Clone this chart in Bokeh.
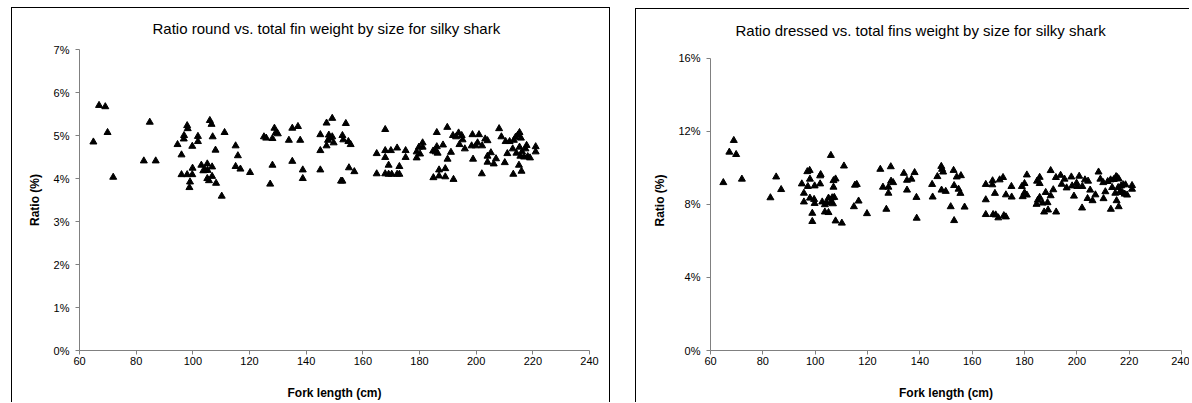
from bokeh.plotting import figure
from bokeh.layouts import row
from bokeh.models import Range1d, FixedTicker, PrintfTickFormatter
from bokeh.embed import file_html
from bokeh.resources import INLINE

# ---- data: left chart (round vs total fin weight) ----
round_fl = [64.9, 66.9, 69.1, 69.9, 71.9, 82.7, 84.8, 86.9, 94.6, 96.0, 96.0, 96.8, 96.9, 98.0, 98.0,
            98.2, 99.0, 98.8, 99.8, 99.8, 99.9, 101.8, 101.8, 103.0, 103.7, 104.4, 105.1, 105.2, 105.1,
            106.0, 106.6, 105.7, 106.8, 106.8, 107.0, 108.0, 108.2, 110.2, 111.2, 115.1, 115.9, 115.1,
            116.8, 120.2, 125.1, 125.9, 127.3, 128.1, 128.1, 128.8, 129.3, 130.0, 133.9, 135.1, 135.1,
            137.1, 137.9, 138.8, 138.8, 145.0, 145.0, 145.0, 147.2, 147.2, 147.7, 148.0, 148.4, 149.2,
            149.2, 149.7, 152.3, 152.8, 152.8, 153.1, 154.0, 154.9, 155.1, 155.7, 157.0, 164.9, 164.9,
            167.9, 167.9, 167.9, 167.9, 169.1, 169.1, 169.9, 170.2, 172.1, 172.1, 172.9, 172.9, 175.1,
            175.1, 179.0, 179.0, 179.8, 180.2, 181.1, 181.1, 184.9, 184.8, 185.7, 186.1, 186.1, 186.4,
            186.9, 186.9, 188.3, 189.1, 189.1, 189.8, 189.9, 191.1, 192.0, 191.8, 192.9, 193.8, 194.1,
            194.9, 195.2, 196.0, 198.7, 198.4, 198.9, 199.8, 200.5, 201.0, 202.0, 202.1, 203.2, 204.0,
            204.0, 204.0, 205.2, 206.2, 207.0, 208.1, 208.9, 210.1, 210.4, 211.0, 211.8, 212.9, 213.1,
            213.3, 213.9, 214.2, 214.7, 215.1, 215.3, 215.3, 215.6, 215.8, 216.0, 216.2, 216.9, 217.4,
            217.8, 218.2, 219.0, 221.0, 221.0]
round_ratio = [4.85, 5.70, 5.67, 5.07, 4.03, 4.41, 5.31, 4.41, 4.79, 4.55, 4.09, 4.92, 5.00, 4.09, 5.23,
               5.16, 3.92, 3.79, 4.09, 4.75, 4.24, 4.98, 4.86, 4.31, 4.18, 4.19, 4.34, 4.19, 4.00,
               5.35, 5.26, 3.95, 4.27, 4.05, 4.97, 4.66, 3.89, 3.59, 5.07, 4.76, 4.53, 4.28,
               4.22, 4.14, 4.97, 4.94, 3.87, 4.31, 4.93, 5.17, 5.07, 5.04, 4.89, 5.17, 4.40,
               5.21, 4.89, 4.20, 4.00, 5.02, 4.65, 4.20, 5.29, 4.76, 4.89, 5.01, 4.94, 5.40,
               4.97, 4.83, 3.94, 3.94, 5.00, 4.90, 5.28, 4.86, 4.25, 4.79, 4.16, 4.58, 4.11,
               5.14, 4.65, 4.49, 4.11, 4.31, 4.10, 4.65, 4.10, 4.71, 4.10, 4.28, 4.10, 4.65,
               4.49, 4.48, 4.62, 4.73, 4.57, 4.83, 4.73, 4.02, 4.64, 4.62, 5.07, 4.74, 4.59,
               4.20, 4.06, 4.78, 4.23, 4.04, 5.19, 4.45, 4.61, 3.98, 5.00, 4.97, 5.06, 4.79,
               5.00, 4.90, 4.69, 5.02, 4.76, 4.45, 4.76, 4.83, 5.02, 4.11, 4.76, 4.92, 4.88,
               4.52, 4.38, 4.60, 4.34, 4.46, 5.16, 4.97, 4.37, 4.86, 4.58, 4.86, 4.69, 4.10,
               4.89, 4.96, 4.59, 5.01, 4.31, 5.07, 4.73, 4.52, 4.94, 4.17, 4.62, 4.50, 4.69,
               4.77, 4.51, 4.48, 4.74, 4.62]

# ---- data: right chart (dressed vs total fins weight) ----
dressed_fl = [64.9, 67.2, 68.9, 69.8, 72.0, 82.9, 85.1, 87.0, 94.9, 95.7, 95.7, 97.2, 97.0, 97.9, 98.0,
              98.0, 98.9, 98.9, 99.8, 99.6, 99.8, 101.9, 101.9, 102.1, 102.7, 103.7, 103.7, 104.4,
              105.1, 105.1, 106.0, 106.1, 106.5, 107.0, 106.8, 107.0, 107.8, 107.3, 107.8, 110.2,
              111.0, 114.8, 115.2, 115.9, 116.6, 119.8, 124.9, 125.9, 127.2, 128.0, 128.0, 128.9,
              129.0, 129.8, 133.9, 135.1, 135.1, 136.8, 138.0, 138.7, 138.8, 144.7, 144.9, 146.7,
              148.2, 148.3, 148.5, 148.9, 149.9, 151.8, 152.9, 153.1, 153.1, 154.1, 154.8, 155.7,
              155.5, 157.1, 165.2, 165.2, 165.2, 167.7, 167.8, 168.0, 168.7, 169.0, 170.0, 170.5,
              171.8, 172.1, 172.9, 172.9, 175.0, 175.1, 179.0, 179.3, 180.0, 180.0, 180.9, 180.9,
              184.6, 184.8, 185.1, 185.8, 185.8, 185.8, 186.9, 187.5, 188.1, 188.8, 189.0, 190.0,
              190.0, 191.0, 192.1, 192.0, 193.8, 194.2, 195.3, 196.1, 197.9, 198.2, 198.9, 199.9,
              200.2, 200.9, 202.1, 202.0, 203.1, 204.1, 204.3, 205.1, 206.0, 207.1, 208.3, 209.0,
              210.1, 210.2, 210.9, 211.8, 212.9, 213.0, 213.5, 214.1, 214.7, 215.0, 215.2, 215.5,
              215.8, 216.0, 216.0, 216.6, 216.9, 217.4, 217.7, 218.3, 218.6, 219.2, 221.1, 221.1]
dressed_ratio = [9.20, 10.87, 11.51, 10.74, 9.39, 8.37, 9.51, 8.82, 9.13, 8.62, 8.14, 8.99, 9.80, 9.87, 9.39,
                 8.35, 7.52, 7.07, 9.02, 8.28, 8.06, 9.13, 9.57, 9.64, 8.14, 7.99, 7.59, 8.08,
                 8.35, 7.56, 10.69, 8.15, 8.37, 8.95, 8.04, 9.31, 9.40, 8.39, 7.10, 6.98,
                 10.11, 7.88, 9.06, 9.10, 8.19, 7.50, 9.93, 8.95, 7.74, 8.95, 8.62, 10.07,
                 9.28, 9.20, 9.71, 9.33, 8.79, 9.39, 9.75, 8.39, 7.25, 9.10, 8.41, 9.53,
                 10.09, 8.79, 9.93, 9.78, 8.72, 7.88, 9.87, 9.04, 7.12, 9.51, 8.84, 9.58,
                 8.61, 7.86, 9.10, 8.26, 7.45, 9.08, 9.30, 7.45, 8.61, 7.43, 7.27, 9.35,
                 9.48, 7.39, 8.53, 7.32, 8.99, 8.41, 8.99, 8.43, 8.64, 9.15, 9.62, 8.52,
                 8.01, 9.28, 8.24, 9.49, 9.15, 8.39, 8.08, 7.59, 8.66, 8.10, 7.70, 8.48,
                 9.86, 8.81, 7.59, 9.48, 9.60, 9.11, 9.39, 8.91, 9.51, 9.02, 8.46, 9.17,
                 8.99, 9.55, 8.99, 7.81, 9.35, 8.33, 9.28, 8.79, 8.21, 8.53, 9.78, 9.39,
                 9.20, 8.32, 8.70, 9.26, 9.35, 7.74, 8.93, 9.37, 8.62, 9.53, 8.21, 9.48,
                 8.93, 7.88, 9.40, 8.72, 9.02, 8.66, 9.08, 8.57, 9.08, 8.52, 9.04, 8.84]

x_ticks = [60, 80, 100, 120, 140, 160, 180, 200, 220, 240]
left_y_ticks = [0, 1, 2, 3, 4, 5, 6, 7]
right_y_ticks = [0, 4, 8, 12, 16]

left_title = "Ratio round vs. total fin weight by size for silky shark"
right_title = "Ratio dressed vs. total fins weight by size for silky shark"

FONT = "Liberation Sans"
AXIS_GRAY = "#808080"

# Both frames share top (y=49) and bottom (y=350) because Bokeh aligns frames in a row.
FRAME_H = 301
# right chart: the 16% tick sits 8 px below the frame top
RIGHT_TOP = 16 * FRAME_H / (FRAME_H - 8)


def make_chart(xs, ys, ymax, ybounds, yticks, title, width, height, mb, title_offset,
               title_standoff, ylab_standoff, styles, margin):
    p = figure(width=width, height=height,
               x_range=Range1d(60, 240), y_range=Range1d(0, ymax),
               output_backend="svg", toolbar_location=None,
               min_border_left=mb[0], min_border_right=mb[1],
               min_border_top=mb[2], min_border_bottom=mb[3])
    p.styles = styles
    p.margin = margin
    p.outline_line_color = None
    p.xgrid.visible = False
    p.ygrid.visible = False
    p.background_fill_color = "white"
    p.border_fill_color = "white"

    p.title.text = title
    p.title.align = "left"
    p.title.offset = title_offset
    p.title.vertical_align = "top"
    p.title.standoff = title_standoff
    p.title.text_font = FONT
    p.title.text_font_size = "15px"
    p.title.text_font_style = "normal"
    p.title.text_color = "black"

    p.scatter(xs, ys, marker="triangle", size=7, fill_color="black", line_color="black")

    for ax in (p.xaxis[0], p.yaxis[0]):
        ax.axis_line_color = AXIS_GRAY
        ax.major_tick_line_color = AXIS_GRAY
        ax.minor_tick_line_color = None
        ax.major_tick_in = 0
        ax.major_tick_out = 4
        ax.major_label_text_font = FONT
        ax.major_label_text_font_size = "11px"
        ax.major_label_text_color = "black"
        ax.axis_label_text_font = FONT
        ax.axis_label_text_font_size = "12px"
        ax.axis_label_text_font_style = "bold"
        ax.axis_label_text_color = "black"

    p.xaxis[0].ticker = FixedTicker(ticks=x_ticks)
    p.xaxis[0].axis_label = "Fork length (cm)"
    p.xaxis[0].major_label_standoff = 2
    p.xaxis[0].axis_label_standoff = 18

    p.yaxis[0].ticker = FixedTicker(ticks=yticks)
    p.yaxis[0].bounds = ybounds
    p.yaxis[0].formatter = PrintfTickFormatter(format="%d%%")
    p.yaxis[0].axis_label = "Ratio (%)"
    p.yaxis[0].major_label_standoff = 6
    p.yaxis[0].axis_label_standoff = ylab_standoff
    return p


p1 = make_chart(round_fl, round_ratio, 7, (0, 7), left_y_ticks, left_title,
                599, 395, (67, 22, 41, 53), 73, 22, 9,
                {"border": "1px solid black", "border-bottom": "none"}, (7, 0, 0, 11))
p2 = make_chart(dressed_fl, dressed_ratio, RIGHT_TOP, (0, 16), right_y_ticks, right_title,
                554, 394, (74, 9, 40, 53), 25, 20, 8,
                {"border-left": "1px solid black", "border-top": "1px solid black"}, (8, 0, 0, 25))

layout = row(p1, p2)
layout.spacing = 0

open("out.html", "w").write(file_html(layout, INLINE))
